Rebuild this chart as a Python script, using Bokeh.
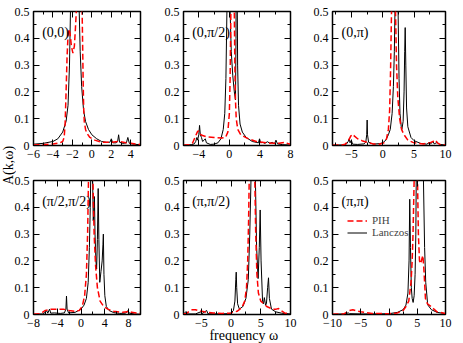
import math
from bokeh.plotting import figure
from bokeh.layouts import row, column
from bokeh.models import (FixedTicker, LinearAxis, Label, Legend, LegendItem, Range1d,
                          CustomLabelingPolicy)
from bokeh.embed import file_html
from bokeh.resources import INLINE

FONT = "Liberation Serif"

# ---------------- data ----------------
y_ticks = [0.0, 0.1, 0.2, 0.3, 0.4, 0.5]
y_minor = [0.05, 0.15, 0.25, 0.35, 0.45]

# (0,0)
k00_lan_w = [-6, -5, -4, -3.5, -3, -2.65, -2.45, -2.3, -2.2, -2.1, -2.0, -1.9, -1.8, -1.75, -1.7,
             -1.6, -1.5, -1.4, -1.3, -1.2, -1.05, -0.85, -0.65, -0.35, 0, 0.5, 1, 1.5, 1.85, 2.0,
             2.15, 2.5, 2.65, 2.75, 2.85, 3.2, 3.55, 3.7, 3.85, 4.2, 5]
k00_lan_a = [0.005, 0.008, 0.015, 0.025, 0.05, 0.09, 0.15, 0.3, 0.5, 0.75, 1.1, 1.9, 2.8, 3.0, 2.8,
             1.9, 1.1, 0.75, 0.5, 0.35, 0.22, 0.13, 0.09, 0.06, 0.04, 0.025, 0.015, 0.012, 0.012, 0.025,
             0.01, 0.01, 0.015, 0.04, 0.012, 0.008, 0.01, 0.03, 0.008, 0.005, 0.003]
k00_pih_w = [-6, -5, -4, -3.3, -3.0, -2.85, -2.75, -2.65, -2.55, -2.45, -2.35, -2.25, -2.1, -1.95, -1.8,
             -1.7, -1.6, -1.4, -1.2, -1.05, -1.0, -0.95, -0.9, -0.85, -0.78, -0.65, -0.5, -0.2, 0.3, 1,
             2, 2.8, 3.5, 4, 5]
k00_pih_a = [0.002, 0.003, 0.006, 0.01, 0.015, 0.03, 0.08, 0.2, 0.33, 0.41, 0.435, 0.42, 0.37, 0.345, 0.37,
             0.43, 0.5, 0.75, 0.75, 0.55, 0.5, 0.38, 0.25, 0.15, 0.09, 0.06, 0.045, 0.03, 0.02, 0.012,
             0.012, 0.015, 0.01, 0.008, 0.004]

# (0,pi/2)
k0h_lan_w = [-6, -5, -4.6, -4.4, -4.25, -4.15, -4.0, -3.9, -3.8, -3.65, -3.5, -3.3, -3.15, -3.0, -2.5,
             -2.0, -1.5, -1.1, -0.8, -0.6, -0.45, -0.32, -0.2, -0.1, 0.0, 0.1, 0.25, 0.45, 0.65, 0.8,
             0.87, 0.92, 0.97, 1.02, 1.08, 1.2, 1.4, 1.7, 2.2, 3.0, 3.8, 3.95, 4.1, 4.4, 4.6,
             5.0, 5.3, 5.6, 5.9, 6.1, 6.3, 7, 8]
k0h_lan_a = [0.002, 0.003, 0.006, 0.015, 0.03, 0.02, 0.04, 0.075, 0.04, 0.03, 0.015, 0.02, 0.025, 0.01, 0.004,
             0.005, 0.01, 0.025, 0.06, 0.12, 0.25, 0.5, 1.2, 2.0, 1.2, 0.5, 0.35, 0.26, 0.2, 0.17,
             0.4, 1.0, 1.5, 0.6, 0.3, 0.15, 0.08, 0.05, 0.03, 0.015, 0.01, 0.025, 0.01, 0.012, 0.008,
             0.014, 0.008, 0.012, 0.006, 0.02, 0.006, 0.003, 0.002]
k0h_pih_w = [-6, -5.2, -4.8, -4.5, -4.2, -4.05, -3.9, -3.6, -3, -2, -1, -0.5, -0.2, 0.0, 0.1,
             0.2, 0.3, 0.45, 0.6, 0.65, 0.72, 0.8, 0.9, 1.1, 1.5, 2.5, 3.5, 5, 6.5, 7.3, 7.6, 8]
k0h_pih_a = [0.001, 0.003, 0.01, 0.03, 0.05, 0.055, 0.045, 0.038, 0.033, 0.03, 0.028, 0.03, 0.05, 0.12, 0.25,
             0.5, 0.9, 0.9, 0.6, 0.5, 0.3, 0.17, 0.1, 0.06, 0.04, 0.025, 0.015, 0.01, 0.008, 0.012, 0.008, 0.005]

# (0,pi)
k0p_lan_w = [-8, -6.5, -5.8, -5.5, -5.35, -5.2, -5.0, -4.8, -4, -3, -2.7, -2.55, -2.48, -2.42, -2.25,
             -1.5, -0.5, 0, 0.5, 0.9, 1.2, 1.5, 1.7, 1.85, 1.95, 2.05, 2.2, 2.35, 2.45, 2.6,
             2.75, 2.95, 3.05, 3.25, 3.4, 3.5, 3.58, 3.68, 3.8, 4.0, 4.5, 5, 6, 7, 7.4,
             7.6, 8.0, 8.2, 8.7, 9, 10]
k0p_lan_a = [0.001, 0.002, 0.005, 0.015, 0.025, 0.01, 0.02, 0.005, 0.004, 0.006, 0.012, 0.04, 0.095, 0.04, 0.012,
             0.005, 0.007, 0.01, 0.02, 0.04, 0.06, 0.12, 0.22, 0.35, 0.5, 1.0, 2.0, 1.0, 0.5, 0.25,
             0.12, 0.07, 0.06, 0.09, 0.2, 0.35, 0.44, 0.3, 0.14, 0.07, 0.03, 0.018, 0.008, 0.005, 0.01,
             0.005, 0.015, 0.006, 0.012, 0.004, 0.002]
k0p_pih_w = [-8, -6.5, -6, -5.5, -5.1, -4.8, -4.5, -4, -3.3, -2.5, -1.5, -0.5, 0.2, 0.6, 0.9,
             1.1, 1.25, 1.4, 1.55, 1.75, 1.9, 2.04, 2.2, 2.4, 2.7, 3.0, 3.4, 4, 5, 6.5,
             7.5, 8, 8.4, 8.7, 9.2, 10]
k0p_pih_a = [0.001, 0.002, 0.005, 0.015, 0.035, 0.042, 0.035, 0.025, 0.018, 0.012, 0.006, 0.005, 0.01, 0.025, 0.06,
             0.13, 0.28, 0.5, 0.8, 0.9, 0.7, 0.5, 0.3, 0.18, 0.1, 0.06, 0.04, 0.02, 0.01, 0.006,
             0.01, 0.015, 0.02, 0.01, 0.003, 0.002]

# (pi/2,pi/2)
khh_lan_w = [-8, -6.5, -6, -5.8, -5.6, -5.3, -5.1, -4.5, -3.5, -2.8, -2.55, -2.45, -2.35, -2.1, -1,
             0, 0.5, 0.9, 1.2, 1.4, 1.55, 1.62, 1.75, 1.85, 1.95, 2.05, 2.15, 2.25, 2.35, 2.5,
             2.62, 2.75, 2.88, 3.0, 3.15, 3.35, 3.55, 3.68, 3.75, 3.85, 4.0, 4.25, 4.7, 5.5, 6.5,
             7.5, 7.9, 8.1, 9, 10]
khh_lan_a = [0.001, 0.002, 0.008, 0.015, 0.005, 0.02, 0.005, 0.006, 0.004, 0.006, 0.02, 0.069, 0.02, 0.006, 0.008,
             0.02, 0.035, 0.06, 0.12, 0.25, 0.4, 0.5, 1.2, 1.0, 0.5, 0.35, 0.38, 0.44, 0.3, 0.2,
             0.17, 0.28, 0.47, 0.28, 0.12, 0.16, 0.2, 0.26, 0.3, 0.15, 0.07, 0.03, 0.015, 0.007, 0.004,
             0.005, 0.015, 0.005, 0.002, 0.001]
khh_pih_w = [-8, -7, -6.5, -6, -5, -4, -3, -2, -1, -0.3, 0.2, 0.6, 0.9, 1.1, 1.25,
             1.45, 1.65, 1.85, 2.0, 2.2, 2.45, 2.75, 3.2, 3.8, 4.5, 5.5, 7, 7.8, 8.1, 8.5, 9.3, 10]
khh_pih_a = [0.001, 0.003, 0.008, 0.015, 0.02, 0.02, 0.02, 0.015, 0.012, 0.015, 0.03, 0.07, 0.15, 0.3, 0.5,
             0.8, 0.9, 0.7, 0.5, 0.3, 0.18, 0.1, 0.05, 0.03, 0.02, 0.012, 0.008, 0.01, 0.013, 0.008, 0.006, 0.004]

# (pi,pi/2)
kph_lan_w = [-8, -7.6, -7.4, -6, -5.1, -4.9, -4.1, -3.9, -2, -0.5, 0, 0.4, 0.65, 0.8, 0.87,
             0.95, 1.1, 1.4, 2.0, 2.5, 2.9, 3.15, 3.35, 3.55, 3.75, 3.95, 4.1, 4.3, 4.55, 4.75,
             4.9, 5.05, 5.3, 5.45, 5.6, 5.8, 5.95, 6.15, 6.3, 6.45, 6.8, 7.5, 8.5, 10]
kph_lan_a = [0.002, 0.01, 0.002, 0.002, 0.01, 0.003, 0.015, 0.003, 0.002, 0.003, 0.005, 0.015, 0.05, 0.13, 0.158,
             0.1, 0.04, 0.02, 0.03, 0.06, 0.13, 0.3, 0.5, 1.0, 1.3, 0.8, 0.5, 0.25, 0.134, 0.25,
             0.39, 0.2, 0.05, 0.04, 0.063, 0.035, 0.04, 0.1, 0.137, 0.06, 0.02, 0.01, 0.005, 0.002]
kph_pih_w = [-8, -7.5, -7, -6.5, -6, -5.5, -4.5, -3, -1.5, 0, 1, 1.8, 2.3, 2.6, 2.8,
             2.95, 3.05, 3.3, 3.55, 3.8, 4.0, 4.15, 4.35, 4.6, 5.0, 6, 7, 7.6, 8, 8.4, 9, 10]
kph_pih_a = [0.002, 0.004, 0.012, 0.018, 0.018, 0.015, 0.01, 0.006, 0.004, 0.006, 0.012, 0.025, 0.05, 0.1, 0.2,
             0.35, 0.5, 0.85, 0.9, 0.7, 0.5, 0.3, 0.15, 0.08, 0.05, 0.03, 0.02, 0.02, 0.022, 0.015, 0.006, 0.002]

# (pi,pi)
kpp_lan_w = [-10, -8, -7.2, -7, -5, -2, 0, 1.5, 2.5, 3.0, 3.35, 3.55, 3.67, 3.8, 3.95,
             4.1, 4.27, 4.45, 4.62, 4.75, 4.82, 5.1, 5.45, 5.8, 6.1, 6.3, 6.5, 6.85, 7.5, 8.5, 10]
kpp_lan_a = [0.001, 0.002, 0.006, 0.003, 0.002, 0.002, 0.003, 0.008, 0.018, 0.035, 0.08, 0.2, 0.43, 0.25, 0.1,
             0.06, 0.045, 0.07, 0.15, 0.3, 0.5, 1.2, 2.0, 1.2, 0.5, 0.25, 0.12, 0.036, 0.018, 0.008, 0.003]
kpp_pih_w = [-10, -8, -7.5, -7, -6.4, -5.8, -5, -3, 0, 1.5, 2.5, 3.0, 3.5, 3.9, 4.1,
             4.25, 4.45, 4.7, 4.9, 5.05, 5.2, 5.4, 5.6, 5.85, 6.0, 6.2, 6.45, 6.8, 7.4, 8.5, 10]
kpp_pih_a = [0.001, 0.002, 0.008, 0.015, 0.018, 0.014, 0.01, 0.004, 0.003, 0.006, 0.015, 0.03, 0.05, 0.12, 0.2,
             0.3, 0.5, 0.8, 0.75, 0.5, 0.3, 0.2, 0.19, 0.21, 0.22, 0.16, 0.06, 0.04, 0.03, 0.01, 0.004]

panel_labels = ["(0,0)", "(0,\u03c0/2)", "(0,\u03c0)", "(\u03c0/2,\u03c0/2)", "(\u03c0,\u03c0/2)", "(\u03c0,\u03c0)"]
x_ranges = [(-6, 5), (-6, 8), (-8, 10), (-8, 10), (-8, 10), (-10, 10)]
x_major = [[-6, -4, -2, 0, 2, 4], [-4, 0, 4, 8], [-5, 0, 5, 10],
           [-8, -4, 0, 4, 8], [-5, 0, 5, 10], [-10, -5, 0, 5, 10]]
x_minor = [[-5, -3, -1, 1, 3, 5], [-6, -2, 2, 6], [-7.5, -2.5, 2.5, 7.5],
           [-6, -2, 2, 6, 10], [-7.5, -2.5, 2.5, 7.5], [-7.5, -2.5, 2.5, 7.5]]
lan_data = [(k00_lan_w, k00_lan_a), (k0h_lan_w, k0h_lan_a), (k0p_lan_w, k0p_lan_a),
            (khh_lan_w, khh_lan_a), (kph_lan_w, kph_lan_a), (kpp_lan_w, kpp_lan_a)]
pih_data = [(k00_pih_w, k00_pih_a), (k0h_pih_w, k0h_pih_a), (k0p_pih_w, k0p_pih_a),
            (khh_pih_w, khh_pih_a), (kph_pih_w, kph_pih_a), (kpp_pih_w, kpp_pih_a)]
legend_labels = ["PIH", "Lanczos"]
x_title = "frequency  \u03c9"
y_title = "A(k,\u03c9)"

# ---------------- layout geometry ----------------
PAGE_W = 463
PAGE_H = 343
FRAME_W = 124
FRAME_H = 140
STRIP_W = 16
col_borders = [(33, 1), (25, 1), (24, 7)]   # (left, right)
row_borders = [(5, 24), (5, 29)]            # (top, bottom)
XT_H = 20


def style_axis(ax, show_labels=True):
    ax.axis_line_color = None
    ax.major_tick_in = 6
    ax.major_tick_out = 0
    ax.minor_tick_in = 3
    ax.minor_tick_out = 0
    ax.major_tick_line_color = "black"
    ax.minor_tick_line_color = "black"
    ax.major_tick_line_width = 1
    ax.minor_tick_line_width = 1
    ax.major_label_text_font = FONT
    ax.major_label_text_color = "black"
    ax.major_label_text_font_size = "12px"
    if show_labels:
        ax.major_label_standoff = 4
    else:
        ax.major_label_standoff = 0
        ax.major_label_policy = CustomLabelingPolicy(
            code="for (const i of indices) { indices.unset(i) }")


def make_panel(i):
    r, c = divmod(i, 3)
    bl, br = col_borders[c]
    bt, bb = row_borders[r]
    xmin, xmax = x_ranges[i]
    p = figure(width=FRAME_W + bl + br, height=FRAME_H + bt + bb,
               x_range=Range1d(xmin, xmax), y_range=Range1d(0, 0.5),
               output_backend="svg", toolbar_location=None,
               min_border_left=bl, min_border_right=br,
               min_border_top=bt, min_border_bottom=bb)
    p.grid.visible = False
    p.outline_line_color = "black"
    p.outline_line_width = 1.5
    p.border_fill_color = None
    p.background_fill_color = "white"
    xt = FixedTicker(ticks=x_major[i], minor_ticks=x_minor[i])
    yt = FixedTicker(ticks=y_ticks, minor_ticks=y_minor)
    for ax in p.xaxis:
        ax.ticker = xt
        style_axis(ax)
    for ax in p.yaxis:
        ax.ticker = yt
        style_axis(ax)
    top = LinearAxis(ticker=xt)
    style_axis(top, False)
    p.add_layout(top, "above")
    right = LinearAxis(ticker=yt)
    style_axis(right, False)
    p.add_layout(right, "right")

    lw, la = lan_data[i]
    pw, pa = pih_data[i]
    lan = p.line(lw, la, line_color="black", line_width=1)
    pih = p.line(pw, pa, line_color="#ff0000", line_width=1.5, line_dash="6 3")

    p.add_layout(Label(x=xmin + (xmax - xmin) * 10.0 / FRAME_W, y=0.5 - 22 * 0.5 / FRAME_H,
                       text=panel_labels[i], text_font=FONT, text_font_size="14px",
                       text_align="left", text_baseline="middle", text_color="black"))
    return p, lan, pih


figs = [make_panel(i) for i in range(6)]

# legend in (pi,pi)
p6, lan6, pih6 = figs[5]
legend = Legend(items=[LegendItem(label=legend_labels[0], renderers=[pih6]),
                       LegendItem(label=legend_labels[1], renderers=[lan6])],
                location=(15, 76), padding=0, margin=0, spacing=0,
                border_line_color=None, background_fill_alpha=0,
                label_text_font=FONT, label_text_font_size="11px",
                glyph_width=20, glyph_height=11, label_height=11, label_standoff=5)
p6.add_layout(legend)

# y title in a narrow strip at the left (panels overlap it with transparent borders)
lf = figure(width=STRIP_W, height=PAGE_H, x_range=Range1d(0, STRIP_W), y_range=Range1d(0, PAGE_H),
            output_backend="svg", toolbar_location=None, min_border=0,
            x_axis_location=None, y_axis_location=None)
lf.grid.visible = False
lf.outline_line_color = None
lf.border_fill_color = None
lf.background_fill_color = None
lf.add_layout(Label(x=8, y=PAGE_H - 165, text=y_title, angle=math.pi / 2, text_font=FONT,
                    text_font_size="14px", text_align="center", text_baseline="middle",
                    text_color="black"))

# x title in a strip overlapping the bottom border
xf = figure(width=PAGE_W, height=XT_H, x_range=Range1d(0, PAGE_W), y_range=Range1d(0, XT_H),
            output_backend="svg", toolbar_location=None, min_border=0,
            x_axis_location=None, y_axis_location=None)
xf.grid.visible = False
xf.outline_line_color = None
xf.border_fill_color = None
xf.background_fill_color = None
xf.add_layout(Label(x=245, y=PAGE_H - 335, text=x_title, text_font=FONT,
                    text_font_size="14px", text_align="center", text_baseline="middle",
                    text_color="black"))

col1 = column(figs[0][0], figs[3][0], spacing=0, margin=(0, 0, 0, -STRIP_W))
col2 = column(figs[1][0], figs[4][0], spacing=0)
col3 = column(figs[2][0], figs[5][0], spacing=0)
grid = row(lf, col1, col2, col3, spacing=0)
xf.margin = (-XT_H, 0, 0, 0)
root = column(grid, xf, spacing=0)

open("out.html", "w").write(file_html(root, INLINE))
